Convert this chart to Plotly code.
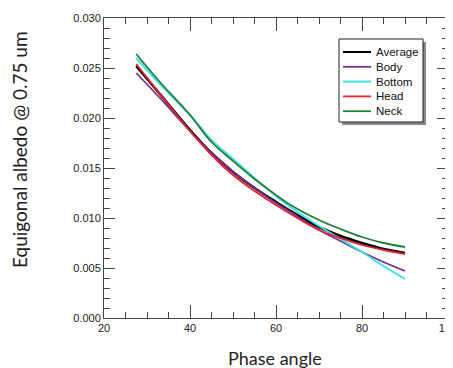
import plotly.graph_objects as go

phase = [27.5, 33, 40, 45, 50, 55, 60, 63, 70, 75, 80, 85, 90]

average = [0.0252, 0.0224, 0.0188, 0.0165, 0.0146, 0.0130, 0.0116, 0.0108, 0.0091, 0.0082, 0.0075, 0.0069, 0.0065]
body    = [0.0245, 0.0220, 0.0187, 0.0165, 0.0146, 0.0130, 0.0115, 0.0107, 0.0088, 0.0077, 0.0066, 0.0056, 0.0047]
bottom  = [0.0260, 0.0234, 0.0203, 0.0178, 0.0159, 0.0140, 0.0122, 0.0112, 0.0092, 0.0079, 0.0066, 0.0052, 0.0039]
head    = [0.0254, 0.0224, 0.0187, 0.0163, 0.0143, 0.0127, 0.0113, 0.0105, 0.0088, 0.0080, 0.0073, 0.0068, 0.0064]
neck    = [0.0264, 0.0236, 0.0203, 0.0176, 0.0157, 0.0139, 0.0123, 0.0114, 0.0098, 0.0089, 0.0081, 0.0075, 0.0071]

series_names = ["Average", "Body", "Bottom", "Head", "Neck"]
series_values = [average, body, bottom, head, neck]
series_colors = ["#000000", "#7b2d8f", "#3fe3e3", "#e3262c", "#24803a"]
series_widths = [2.6, 1.8, 2.0, 1.8, 1.8]

# the page body has an 8px default margin, so the figure is drawn 8px smaller
OFF = 8
W, H = 453 - OFF, 368 - OFF
ML, MR, MT, MB = 104 - OFF, 5, 18 - OFF, 50
PW, PH = W - ML - MR, H - MT - MB


def px(xpix):
    return (xpix - OFF - ML) / PW


def py(ypix):
    return (H - MB - (ypix - OFF)) / PH


fig = go.Figure()
for name, vals, color, w in zip(series_names, series_values, series_colors, series_widths):
    fig.add_trace(go.Scatter(
        x=phase, y=vals, mode="lines", name=name, showlegend=False,
        line=dict(color=color, width=w, shape="spline", smoothing=1.0),
    ))

tickfont = dict(family="Liberation Sans, Arial, sans-serif", size=11, color="#222")
legfont = dict(family="Liberation Sans, Arial, sans-serif", size=11.5, color="#111")

shapes = [
    dict(type="rect", xref="paper", yref="paper", x0=px(342), x1=px(426), y0=py(42), y1=py(125),
         fillcolor="#8a8a8a", line=dict(width=0), layer="above"),
    dict(type="rect", xref="paper", yref="paper", x0=px(339), x1=px(423), y0=py(39), y1=py(122),
         fillcolor="white", line=dict(color="#222", width=1), layer="above"),
]
annotations = [
    dict(text="Phase angle", xref="paper", yref="paper", x=px(275), y=py(358),
         xanchor="center", yanchor="middle", showarrow=False,
         font=dict(family="Lato, Open Sans, sans-serif", size=18, color="#222")),
    dict(text="Equigonal albedo @ 0.75 um", xref="paper", yref="paper", x=px(20), y=py(150),
         xanchor="center", yanchor="middle", textangle=-90, showarrow=False,
         font=dict(family="Lato, Open Sans, sans-serif", size=19, color="#222")),
]
for i, (name, color, w) in enumerate(zip(series_names, series_colors, series_widths)):
    yc = 52 + i * 14.8
    shapes.append(dict(type="line", xref="paper", yref="paper", x0=px(343), x1=px(371),
                       y0=py(yc), y1=py(yc), line=dict(color=color, width=min(w, 2.0)), layer="above"))
    annotations.append(dict(text=name, xref="paper", yref="paper", x=px(374), y=py(yc),
                            xanchor="left", yanchor="middle", showarrow=False, font=legfont))

fig.update_layout(
    width=W, height=H,
    margin=dict(l=ML, r=MR, t=MT, b=MB),
    paper_bgcolor="white", plot_bgcolor="white",
    showlegend=False,
    xaxis=dict(
        range=[20, 100], tickvals=[20, 40, 60, 80, 100], ticktext=["20", "40", "60", "80", "100"],
        ticks="inside", ticklen=13, tickwidth=1, tickcolor="#444",
        minor=dict(dtick=5, ticks="inside", ticklen=6, tickcolor="#444", showgrid=False),
        showline=True, linecolor="#444", linewidth=1, mirror="ticks",
        showgrid=False, zeroline=False, tickfont=tickfont,
        ticklabeloverflow="allow", automargin=False,
    ),
    yaxis=dict(
        range=[0, 0.030], dtick=0.005, tickformat=".3f",
        ticks="inside", ticklen=11, tickwidth=1, tickcolor="#444",
        minor=dict(dtick=0.001, ticks="inside", ticklen=6, tickcolor="#444", showgrid=False),
        showline=True, linecolor="#444", linewidth=1, mirror="ticks",
        showgrid=False, zeroline=False, tickfont=tickfont,
        automargin=False,
    ),
    shapes=shapes,
    annotations=annotations,
)

fig.write_html("out.html")
